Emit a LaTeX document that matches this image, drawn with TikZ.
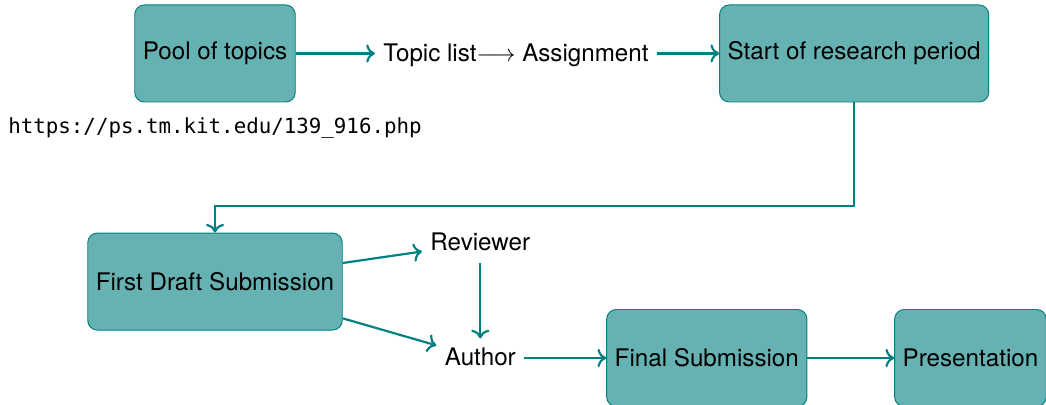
\documentclass[tikz,border=0pt]{standalone}
\usepackage{fontspec}
\setmainfont{TeX Gyre Heros}
\setmonofont{DejaVu Sans Mono}
\usetikzlibrary{positioning, arrows.meta}
\tikzset{
    base/.style={align=center, font=\normalsize},
    box/.style={base, draw=teal, fill=teal!60, rectangle, rounded corners=4pt, minimum height=1.41cm},
    plain/.style={base, text height=1.5ex, text depth=.25ex},
    arrow/.style={->, line width=0.9pt, draw=teal},
    link/.style={font=\fontsize{8.6}{10}\selectfont\ttfamily}
}

\begin{document}
\begin{tikzpicture}[node distance=1.2cm, auto]
    \useasboundingbox (-3.124,0.777) rectangle (12.074,-5.107);
    % Nodes
    \node [box] (pool) at (0, 0) {Pool of topics};
    \node [plain, right=1.15cm of pool] (topics) {Topic list$\longrightarrow$ Assignment};
    \node [box, right=0.9cm of topics] (start) {Start of research period};
    \node [link, below=0.1cm of pool] (url) {https://ps.tm.kit.edu/139\_916.php};

    \node [box, below=1.89cm of pool] (first) {First Draft Submission};
    \node [plain, right=1.15cm of first, yshift=0.56cm] (reviewer) {Reviewer};
    \node [plain, below=1.1cm of reviewer] (author) {Author};
    \node [box, right=1.19cm of author] (final) {Final Submission};
    \node [box, right=1.26cm of final] (present) {Presentation};

    % Connections
    \draw [arrow] (pool) -- (topics);
    \draw [arrow] (topics) -- (start);
    \draw [arrow] (start.south) -- ++(0,-1.5) -| (first.north);
    \draw [arrow] (first) -- (reviewer);
    \draw [arrow] (first) -- (author);
    \draw [arrow] (reviewer) -- (author);
    \draw [arrow] (author) -- (final);
    \draw [arrow] (final) -- (present);
\end{tikzpicture}
\end{document}
